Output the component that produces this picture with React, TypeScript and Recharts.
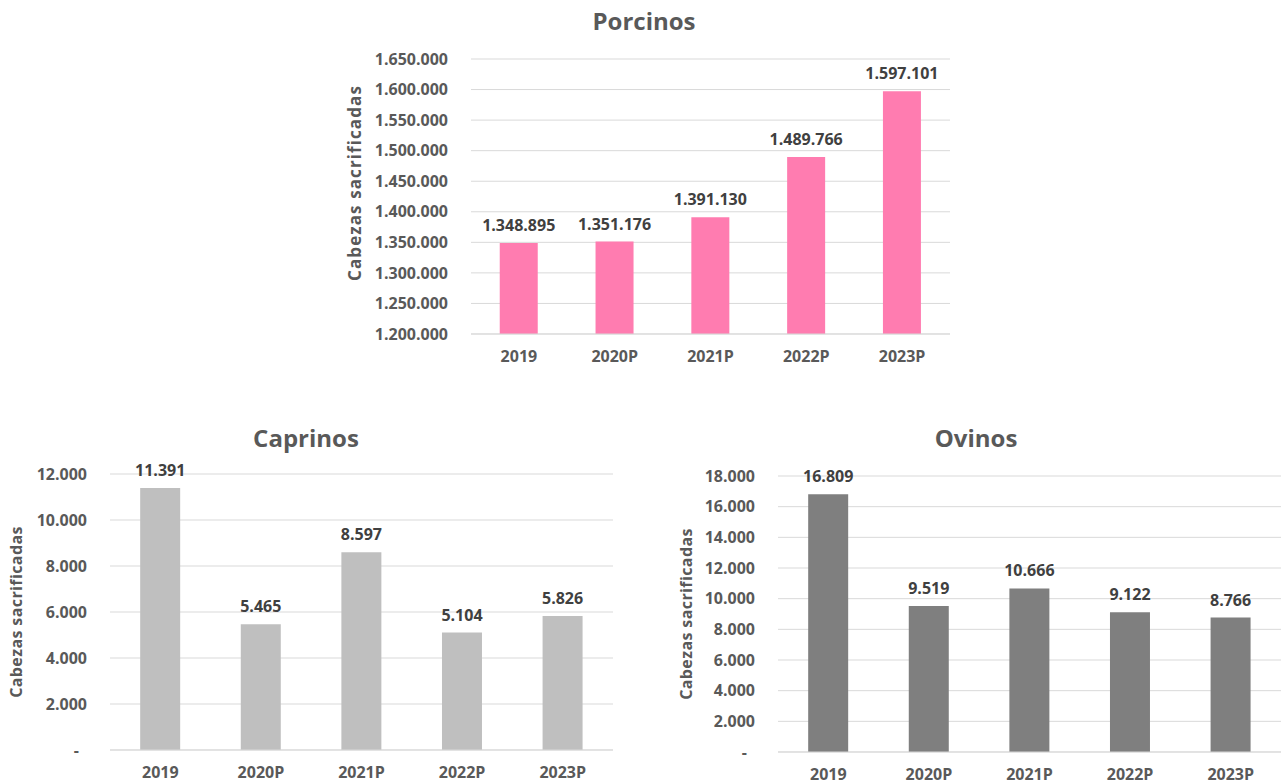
import React from 'react';
import { BarChart, Bar, XAxis, YAxis, CartesianGrid, LabelList } from 'recharts';

const years = ['2019', '2020P', '2021P', '2022P', '2023P'];
const porcinos = [1348895, 1351176, 1391130, 1489766, 1597101];
const caprinos = [11391, 5465, 8597, 5104, 5826];
const ovinos = [16809, 9519, 10666, 9122, 8766];

const porcinosTicks = [1200000, 1250000, 1300000, 1350000, 1400000, 1450000, 1500000, 1550000, 1600000, 1650000];
const caprinosTicks = [0, 2000, 4000, 6000, 8000, 10000, 12000];
const ovinosTicks = [0, 2000, 4000, 6000, 8000, 10000, 12000, 14000, 16000, 18000];

const FONT = "'Open Sans', 'Noto Sans', sans-serif";

const fmt = (v: number) => String(Math.round(v)).replace(/\B(?=(\d{3})+(?!\d))/g, '.');
const tickFmt = (v: number) => (v === 0 ? '-\u2002' : fmt(v));

const build = (vals: number[]) => years.map((y, i) => ({ year: y, value: vals[i] }));

const tickStyle = { fill: '#595959', fontSize: 16, fontWeight: 700, fontFamily: FONT };
const labelStyle = { fill: '#404040', fontSize: 16, fontWeight: 700, fontFamily: FONT };

type PanelProps = {
  data: { year: string; value: number }[];
  color: string;
  ticks: number[];
  left: number;
  top: number;
  width: number;
  height: number;
  margin: { top: number; right: number; bottom: number; left: number };
  yWidth: number;
};

function Panel({ data, color, ticks, left, top, width, height, margin, yWidth }: PanelProps) {
  return (
    <div style={{ position: 'absolute', left, top, width, height }}>
      <BarChart width={width} height={height} data={data} margin={margin} barCategoryGap="30%">
        <CartesianGrid vertical={false} stroke="#d9d9d9" strokeWidth={1} />
        <XAxis
          dataKey="year"
          tickLine={false}
          axisLine={{ stroke: '#d9d9d9' }}
          tick={tickStyle}
          tickSize={0}
          tickMargin={17}
          height={30}
          interval={0}
        />
        <YAxis
          type="number"
          domain={[ticks[0], ticks[ticks.length - 1]]}
          ticks={ticks}
          tickFormatter={tickFmt}
          axisLine={false}
          tickLine={false}
          tickSize={0}
          tickMargin={23}
          width={yWidth}
          tick={tickStyle}
          interval={0}
        />
        <Bar dataKey="value" fill={color} isAnimationActive={false}>
          <LabelList dataKey="value" position="top" offset={12} formatter={(v: number) => fmt(v)} style={labelStyle} />
        </Bar>
      </BarChart>
    </div>
  );
}

const titleStyle = (cx: number, cy: number): React.CSSProperties => ({
  position: 'absolute',
  left: cx - 150,
  top: cy - 17,
  width: 300,
  height: 34,
  lineHeight: '34px',
  textAlign: 'center',
  fontFamily: FONT,
  fontWeight: 700,
  fontSize: 24,
  color: '#595959',
});

const yLabelStyle = (cx: number, cy: number, size: number, spacing: number): React.CSSProperties => ({
  position: 'absolute',
  left: cx - 150,
  top: cy - 12,
  width: 300,
  height: 24,
  lineHeight: '24px',
  textAlign: 'center',
  fontFamily: FONT,
  fontWeight: 700,
  fontSize: size,
  letterSpacing: `${spacing}px`,
  color: '#595959',
  transform: 'rotate(-90deg)',
  whiteSpace: 'nowrap',
});

export default function App() {
  return (
    <div style={{ position: 'absolute', left: 0, top: 0, width: 1282, height: 783, overflow: 'hidden', background: '#ffffff' }}>
      <div style={titleStyle(644, 21)}>Porcinos</div>
      <div style={yLabelStyle(355, 183, 17, 1.1)}>Cabezas sacrificadas</div>
      <Panel
        data={build(porcinos)}
        color="#FF7CB0"
        ticks={porcinosTicks}
        left={340}
        top={0}
        width={620}
        height={380}
        margin={{ top: 59, right: 10, bottom: 16, left: 0 }}
        yWidth={131}
      />

      <div style={titleStyle(306, 438)}>Caprinos</div>
      <div style={yLabelStyle(16, 612, 16, 0.4)}>Cabezas sacrificadas</div>
      <Panel
        data={build(caprinos)}
        color="#BFBFBF"
        ticks={caprinosTicks}
        left={0}
        top={400}
        width={630}
        height={383}
        margin={{ top: 74, right: 17, bottom: 3, left: 0 }}
        yWidth={110}
      />

      <div style={titleStyle(976, 438)}>Ovinos</div>
      <div style={yLabelStyle(686, 614, 16, 0.4)}>Cabezas sacrificadas</div>
      <Panel
        data={build(ovinos)}
        color="#7F7F7F"
        ticks={ovinosTicks}
        left={660}
        top={400}
        width={622}
        height={383}
        margin={{ top: 76, right: 1, bottom: 1, left: 0 }}
        yWidth={118}
      />
    </div>
  );
}
